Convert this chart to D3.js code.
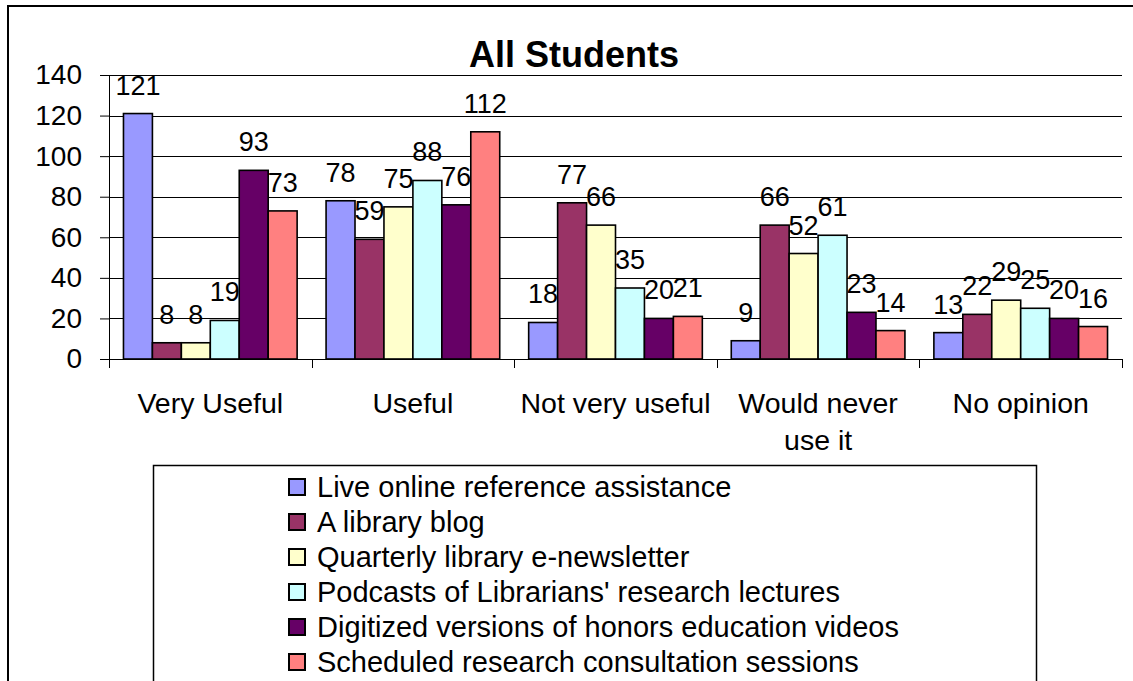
<!DOCTYPE html>
<meta charset="utf-8">
<style>
  body { margin: 0; background: #fff; }
  text { font-family: "Liberation Sans", Arial, sans-serif; fill: #000; }
</style>
<script src="https://d3js.org/d3.v7.min.js"></script>
<body>
<script>

var width = 1133,
    height = 681;

var categories = ["Very Useful", "Useful", "Not very useful", "Would never use it", "No opinion"];
var seriesNames = ["Live online reference assistance",
                   "A library blog",
                   "Quarterly library e-newsletter",
                   "Podcasts of Librarians' research lectures",
                   "Digitized versions of honors education videos",
                   "Scheduled research consultation sessions"];
var seriesColors = ["#9999FF", "#993366", "#FFFFCC", "#CCFFFF", "#660066", "#FF8080"];

// one array per series, in category order
var liveOnline   = [121, 78, 18, 9, 13];
var libraryBlog  = [8, 59, 77, 66, 22];
var newsletter   = [8, 75, 66, 52, 29];
var podcasts     = [19, 88, 35, 61, 25];
var videos       = [93, 76, 20, 23, 20];
var consultation = [73, 112, 21, 14, 16];

var yTicks = [0, 20, 40, 60, 80, 100, 120, 140];

var seriesValues = [liveOnline, libraryBlog, newsletter, podcasts, videos, consultation];

var plot = {left: 109, right: 1122, top: 75, bottom: 359};

var svg = d3.select("body").append("svg")
    .attr("width", width)
    .attr("height", height);

// outer frame (right/bottom edges fall outside the picture)
svg.append("path")
    .attr("d", "M8," + (height + 10) + "V6H" + (width + 10))
    .attr("fill", "none")
    .attr("stroke", "#000")
    .attr("stroke-width", 2);

var x0 = d3.scaleBand()
    .domain(categories)
    .range([plot.left, plot.right]);

var x1 = d3.scaleBand()
    .domain(d3.range(seriesNames.length))
    .range([0, x0.bandwidth()])
    .paddingOuter(0.5);

var y = d3.scaleLinear()
    .domain([0, 140])
    .range([plot.bottom, plot.top]);

// gridlines
svg.append("g").selectAll("line").data(yTicks.filter(function(d){return d > 0;}))
  .enter().append("line")
    .attr("x1", plot.left).attr("x2", plot.right)
    .attr("y1", function(d){return Math.round(y(d)) + 0.5;})
    .attr("y2", function(d){return Math.round(y(d)) + 0.5;})
    .attr("stroke", "#000")
    .attr("stroke-width", 1);

// y axis
var yAxis = svg.append("g")
    .attr("transform", "translate(" + plot.left + ",0)")
    .call(d3.axisLeft(y).tickValues(yTicks).tickSize(9).tickPadding(18).tickSizeOuter(0));
yAxis.select(".domain").remove();
yAxis.selectAll("line").attr("stroke", "#000");
yAxis.selectAll("text")
    .style("font-size", "28px")
    .style("font-family", "'Liberation Sans', Arial, sans-serif")
    .attr("fill", "#000");

svg.append("line")
    .attr("x1", plot.left + 0.5).attr("x2", plot.left + 0.5)
    .attr("y1", plot.top).attr("y2", plot.bottom + 9)
    .attr("stroke", "#000");

// x axis line and boundary ticks
svg.append("line")
    .attr("x1", plot.left).attr("x2", plot.right)
    .attr("y1", plot.bottom + 0.5).attr("y2", plot.bottom + 0.5)
    .attr("stroke", "#000");

var bounds = categories.map(function(c){return x0(c);}).concat([plot.right]);
svg.append("g").selectAll("line").data(bounds)
  .enter().append("line")
    .attr("x1", function(d){return Math.round(d) + 0.5;})
    .attr("x2", function(d){return Math.round(d) + 0.5;})
    .attr("y1", plot.bottom).attr("y2", plot.bottom + 9)
    .attr("stroke", "#000");

// bars
var groups = svg.append("g").selectAll("g")
    .data(categories)
  .enter().append("g")
    .attr("transform", function(d){return "translate(" + x0(d) + ",0)";});

groups.selectAll("rect")
    .data(function(c, ci){return seriesValues.map(function(s, si){return {s: si, v: s[ci]};});})
  .enter().append("rect")
    .attr("x", function(d){return x1(d.s);})
    .attr("width", x1.bandwidth())
    .attr("y", function(d){return y(d.v);})
    .attr("height", function(d){return y(0) - y(d.v);})
    .attr("fill", function(d){return seriesColors[d.s];})
    .attr("stroke", "#000")
    .attr("stroke-width", 1.6);

groups.selectAll("text.val")
    .data(function(c, ci){return seriesValues.map(function(s, si){return {s: si, v: s[ci]};});})
  .enter().append("text")
    .attr("class", "val")
    .attr("x", function(d){return x1(d.s) + x1.bandwidth() / 2;})
    .attr("y", function(d){return y(d.v) - 19;})
    .attr("text-anchor", "middle")
    .style("font-size", "27px")
    .text(function(d){return d.v;});

// category labels, wrapped to band width
var catLabels = svg.append("g").selectAll("text")
    .data(categories)
  .enter().append("text")
    .attr("x", function(d){return x0(d) + x0.bandwidth() / 2;})
    .attr("y", 413)
    .attr("text-anchor", "middle")
    .style("font-size", "28.5px")
    .each(function(d){
      var el = d3.select(this),
          words = d.split(" "),
          line = [],
          lineNo = 0,
          tspan = el.append("tspan").attr("x", el.attr("x")).attr("dy", 0);
      words.forEach(function(w){
        line.push(w);
        tspan.text(line.join(" "));
        if (tspan.node().getComputedTextLength() > x0.bandwidth() && line.length > 1) {
          line.pop();
          tspan.text(line.join(" "));
          line = [w];
          lineNo++;
          tspan = el.append("tspan").attr("x", el.attr("x")).attr("dy", 37).text(w);
        }
      });
    });

// title
svg.append("text")
    .attr("x", 574)
    .attr("y", 67)
    .attr("text-anchor", "middle")
    .style("font-size", "36px")
    .style("font-weight", "bold")
    .text("All Students");

// legend
var legend = svg.append("g");
legend.append("rect")
    .attr("x", 153.5).attr("y", 465.5)
    .attr("width", 883).attr("height", 260)
    .attr("fill", "#fff")
    .attr("stroke", "#000")
    .attr("stroke-width", 1.5);

var items = legend.selectAll("g.item")
    .data(seriesNames)
  .enter().append("g")
    .attr("class", "item")
    .attr("transform", function(d, i){return "translate(288," + (478 + i * 35) + ")";});

items.append("rect")
    .attr("x", 1).attr("y", 1)
    .attr("width", 16).attr("height", 16)
    .attr("fill", function(d, i){return seriesColors[i];})
    .attr("stroke", "#000")
    .attr("stroke-width", 2);

items.append("text")
    .attr("x", 29)
    .attr("y", 18.5)
    .style("font-size", "29px")
    .text(function(d){return d;});

</script>
